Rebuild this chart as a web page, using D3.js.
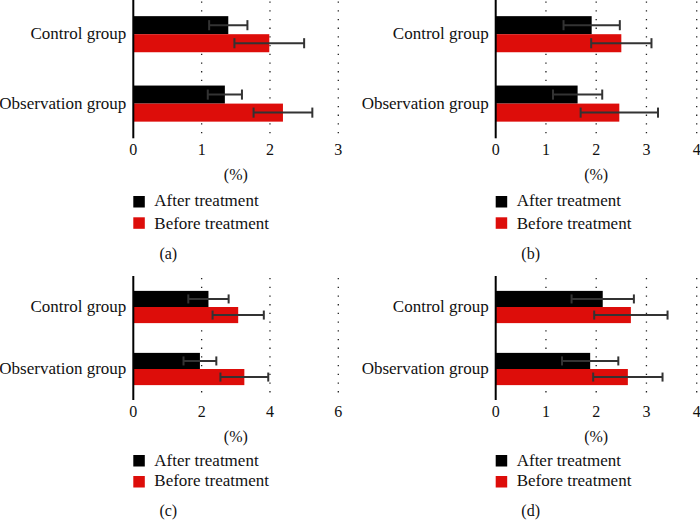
<!DOCTYPE html>
<html>
<head>
<meta charset="utf-8">
<script src="https://cdn.jsdelivr.net/npm/d3@7"></script>
<style>
  html, body { margin: 0; padding: 0; background: #fff; }
  svg { display: block; }
</style>
</head>
<body>
<svg id="chart" width="700" height="522"></svg>
<script>
// ---- data ----
const categories = ["Control group", "Observation group"];
const seriesNames = ["After treatment", "Before treatment"];
const seriesColors = ["#000000", "#dd0d0a"];
const panelLabels = ["(a)", "(b)", "(c)", "(d)"];
const axisTitle = "(%)";
const xMaxes = [3, 4, 6, 4];
const tickSets = [[0, 1, 2, 3], [0, 1, 2, 3, 4], [0, 2, 4, 6], [0, 1, 2, 3, 4]];
// means: [panel][category]
const afterMeans  = [[1.39, 1.34], [1.91, 1.63], [2.20, 1.95], [2.13, 1.88]];
const beforeMeans = [[1.99, 2.19], [2.50, 2.46], [3.07, 3.25], [2.69, 2.63]];
const afterSD     = [[0.28, 0.25], [0.56, 0.49], [0.59, 0.48], [0.62, 0.56]];
const beforeSD    = [[0.51, 0.43], [0.60, 0.77], [0.75, 0.70], [0.73, 0.69]];

// ---- layout ----
const FONT = "'Liberation Serif', 'Times New Roman', 'DejaVu Serif', serif";
const cols = [{x0: 133.3, x1: 338.3}, {x0: 495.7, x1: 696.7}];
const rows = [
  {top: -0.5, bottom: 138.3, tick: 155, pct: 180, leg: [196, 217.3], legText: [206, 228.5], cap: 259},
  {top: 276, bottom: 400, tick: 416.7, pct: 442, leg: [455, 476], legText: [465.5, 486], cap: 515.5}
];

const svg = d3.select("#chart")
  .attr("font-family", FONT)
  .style("font-family", FONT);

function txt(sel) {
  return sel.attr("font-family", FONT).style("font-family", FONT).attr("fill", "#111");
}

for (let p = 0; p < 4; p++) {
  const col = cols[p % 2], row = rows[Math.floor(p / 2)];
  const g = svg.append("g");
  const x = d3.scaleLinear().domain([0, xMaxes[p]]).range([col.x0, col.x1]);
  const y = d3.scaleBand().domain(categories).range([row.top, row.bottom])
    .paddingInner(0.48).paddingOuter(0.24);
  const sub = d3.scaleBand().domain(seriesNames).range([0, y.bandwidth()]);

  // dotted grid lines
  g.selectAll("line.grid").data(tickSets[p].filter(t => t !== 0)).join("line")
    .attr("x1", d => x(d)).attr("x2", d => x(d))
    .attr("y1", row.top + 2).attr("y2", row.bottom - 3)
    .attr("stroke", "#222").attr("stroke-width", 1.3)
    .attr("stroke-dasharray", "1.3,7.4");

  const rowsData = [];
  categories.forEach((c, i) => {
    rowsData.push({cat: c, s: 0, v: afterMeans[p][i], sd: afterSD[p][i]});
    rowsData.push({cat: c, s: 1, v: beforeMeans[p][i], sd: beforeSD[p][i]});
  });

  // bars
  g.selectAll("rect.bar").data(rowsData).join("rect")
    .attr("x", x(0))
    .attr("y", d => y(d.cat) + sub(seriesNames[d.s]))
    .attr("width", d => x(d.v) - x(0))
    .attr("height", sub.bandwidth())
    .attr("fill", d => seriesColors[d.s]);

  // error bars
  const eb = g.selectAll("g.err").data(rowsData).join("g")
    .attr("stroke", "#333").attr("stroke-width", 2);
  eb.append("line")
    .attr("x1", d => x(d.v - d.sd)).attr("x2", d => x(d.v + d.sd))
    .attr("y1", d => y(d.cat) + sub(seriesNames[d.s]) + sub.bandwidth() / 2)
    .attr("y2", d => y(d.cat) + sub(seriesNames[d.s]) + sub.bandwidth() / 2);
  [-1, 1].forEach(k => {
    eb.append("line")
      .attr("x1", d => x(d.v + k * d.sd)).attr("x2", d => x(d.v + k * d.sd))
      .attr("y1", d => y(d.cat) + sub(seriesNames[d.s]) + sub.bandwidth() * 0.22)
      .attr("y2", d => y(d.cat) + sub(seriesNames[d.s]) + sub.bandwidth() * 0.78);
  });

  // y axis line
  g.append("line")
    .attr("x1", x(0)).attr("x2", x(0))
    .attr("y1", row.top).attr("y2", row.bottom)
    .attr("stroke", "#000").attr("stroke-width", 2);

  // category labels
  txt(g.selectAll("text.cat").data(categories).join("text"))
    .attr("x", x(0) - 7)
    .attr("y", d => y(d) + y.bandwidth() / 2)
    .attr("dy", "0.3em")
    .attr("text-anchor", "end")
    .attr("font-size", 17)
    .text(d => d);

  // tick labels
  txt(g.selectAll("text.tick").data(tickSets[p]).join("text"))
    .attr("x", d => x(d)).attr("y", row.tick)
    .attr("text-anchor", "middle").attr("font-size", 16)
    .text(d => d);

  // axis title
  txt(g.append("text"))
    .attr("x", (col.x0 + col.x1) / 2).attr("y", row.pct)
    .attr("text-anchor", "middle").attr("font-size", 16)
    .text(axisTitle);

  // legend
  seriesNames.forEach((s, i) => {
    g.append("rect")
      .attr("x", col.x0).attr("y", row.leg[i])
      .attr("width", 11.5).attr("height", 11.5)
      .attr("fill", seriesColors[i]);
    txt(g.append("text"))
      .attr("x", col.x0 + 21).attr("y", row.legText[i])
      .attr("font-size", 17)
      .text(s);
  });

  // panel caption
  txt(g.append("text"))
    .attr("x", col.x0 + 35).attr("y", row.cap)
    .attr("text-anchor", "middle").attr("font-size", 16)
    .text(panelLabels[p]);
}
</script>
</body>
</html>
